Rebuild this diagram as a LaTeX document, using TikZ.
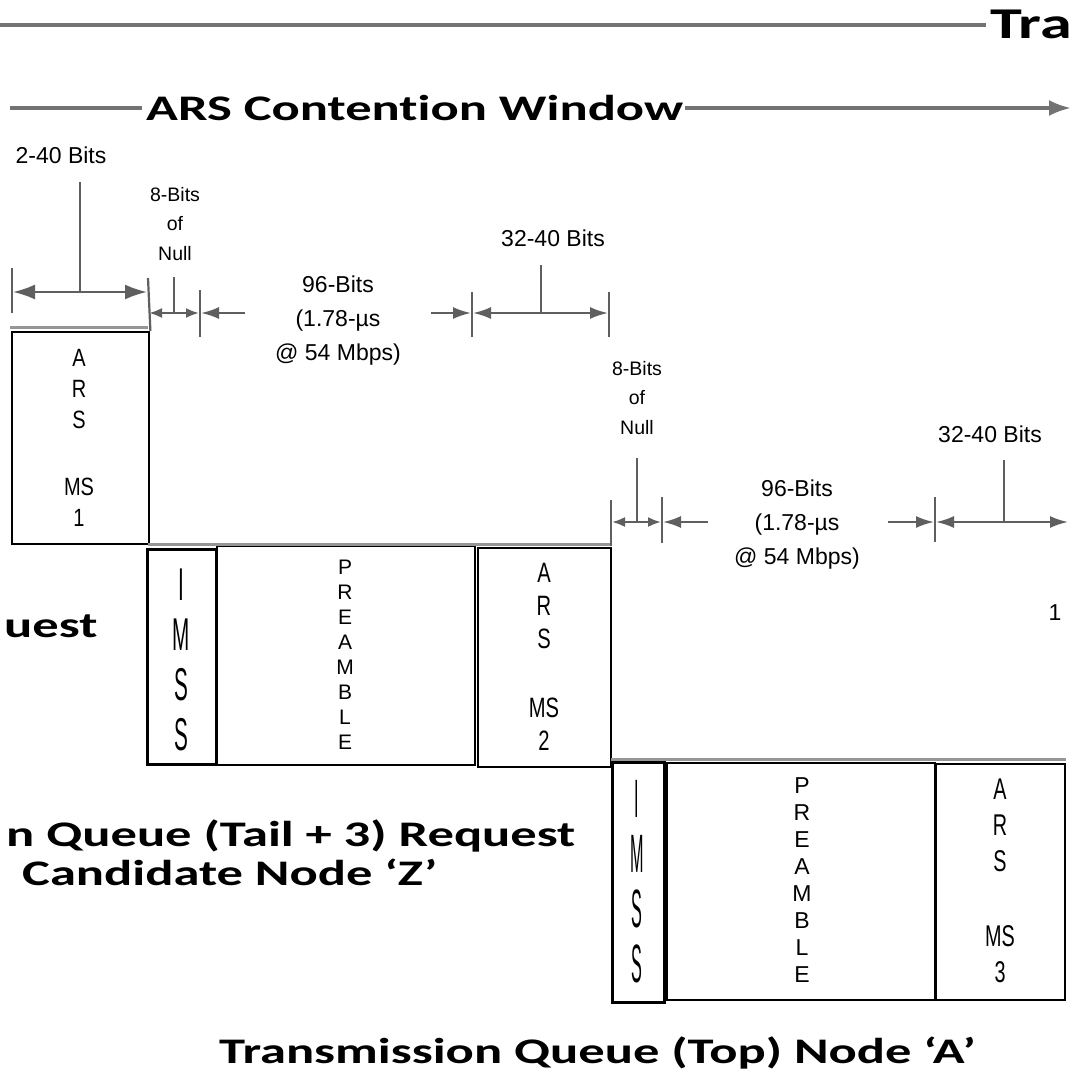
\documentclass[tikz,border=0pt]{standalone}
\usepackage{fontspec}
\setmainfont{Liberation Sans}
\newfontfamily\titlefont[FakeStretch=1.46,Ligatures=NoCommon]{Carlito}
\newfontfamily\imssA[FakeStretch=0.45]{Liberation Sans}
\newfontfamily\imssB[FakeStretch=0.3]{Liberation Sans}
\newfontfamily\arsA[FakeStretch=0.8]{Liberation Sans}
\newfontfamily\arsB[FakeStretch=0.72]{Liberation Sans}
\newfontfamily\arsC[FakeStretch=0.66]{Liberation Sans}
\usetikzlibrary{arrows.meta}
\definecolor{dimgray}{RGB}{95,95,95}
\definecolor{rulegray}{RGB}{115,115,115}
\definecolor{edgegray}{RGB}{150,150,150}
\begin{document}
\begin{tikzpicture}[x=1pt,y=-1pt,
  box/.style={draw=black,line width=2.4pt,inner sep=0pt,anchor=north west},
  stack/.style={align=center,inner sep=0pt},
  dimln/.style={draw=dimgray,line width=2.2pt},
  bigarr/.style={dimln,-{Latex[length=22pt,width=15pt]}},
  midarr/.style={dimln,-{Latex[length=18pt,width=12pt]}},
  smallarr/.style={dimln,-{Latex[length=13pt,width=10pt]}},
  lbl/.style={inner sep=0pt,font=\fontsize{23}{33}\selectfont,align=center},
  nulllbl/.style={inner sep=0pt,font=\fontsize{19.5}{29.5}\selectfont,align=center},
  ttl/.style={inner sep=0pt,font=\titlefont\bfseries\fontsize{36}{42}\selectfont},
  grayrule/.style={draw=rulegray,line width=4.5pt},
  edgerule/.style={draw=edgegray,line width=3pt}]
\useasboundingbox (0,0) rectangle (1071,1079);
\clip (0,0) rectangle (1071,1079);
\fill[white] (0,0) rectangle (1071,1079);

% ---- top rule
\coordinate (topL) at (0,25);
\node[ttl,font=\titlefont\bfseries\fontsize{44}{50}\selectfont,anchor=base west] (tra) at (990,38) {Tra};
\draw[grayrule] (topL) -- ([xshift=-4pt]topL -| tra.west);

% ---- ARS contention window
\node[ttl,anchor=base west] (arscw) at (146,120) {ARS Contention Window};
\coordinate (cwL) at (10,108);
\coordinate (cwR) at (1071,108);
\draw[grayrule,line width=3.5pt] (cwL) -- ([xshift=-4pt]cwL -| arscw.west);
\draw[grayrule,line width=3.5pt,-{Latex[length=22pt,width=16pt]}] ([xshift=2pt]cwR -| arscw.east) -- (cwR);

% ---- boxes
\node[box,minimum width=137pt,minimum height=212pt] (ms1) at (11,331) {};
\node[stack,font=\arsA\fontsize{25}{31}\selectfont] (ms1t) at (79,437.5) {A\\R\\S\\[36pt]MS\\1};

\node[box,line width=2.8pt,minimum width=69pt,minimum height=215pt] (imss1) at (146,548) {};
\node[stack,font=\imssA\fontsize{46}{50}\selectfont] (imss1t) at (181,660) {I\\M\\S\\S};

\node[box,minimum width=258pt,minimum height=219pt] (pre1) at (216,545) {};
\node[stack,font=\fontsize{21}{25}\selectfont] (pre1t) at (345,654.5) {P\\R\\E\\A\\M\\B\\L\\E};

\node[box,minimum width=133pt,minimum height=219pt] (ms2) at (477,547) {};
\node[stack,font=\arsB\fontsize{28}{33}\selectfont] (ms2t) at (544,656.5) {A\\R\\S\\[36pt]MS\\2};

\node[box,line width=2.8pt,minimum width=52pt,minimum height=240pt] (imss2) at (611,761) {};
\node[stack,font=\imssB\fontsize{54}{55}\selectfont] (imss2t) at (637,882) {I\\M\\S\\S};

\node[box,minimum width=268pt,minimum height=237pt] (pre2) at (666,762) {};
\node[stack,font=\fontsize{23}{27.1}\selectfont] (pre2t) at (802,880) {P\\R\\E\\A\\M\\B\\L\\E};

\node[box,minimum width=129pt,minimum height=236pt] (ms3) at (935,763) {};
\node[stack,font=\arsC\fontsize{30}{36}\selectfont] (ms3t) at (1000,881) {A\\R\\S\\[39pt]MS\\3};

% ---- light edge rules above the box rows
\draw[edgerule] (10,327) -- (148,327);
\draw[edgerule] (148,544) -- (611,544);
\draw[edgerule] (611,759) -- (1066,759);

% ---- dimension row 1
\node[lbl] (l240) at (61,155) {2-40 Bits};
\coordinate (s1top) at (80,182);
\coordinate (s1) at (80,292);
\draw[dimln] (12,268) -- (12,313);
\draw[dimln] (148,278) -- (ms1.north east);
\draw[dimln] (s1top) -- (s1);
\draw[bigarr] (s1) -- (13,292);
\draw[bigarr] (s1) -- (147,292);

\node[nulllbl] (n1) at (175,224) {8-Bits\\of\\Null};
\coordinate (s2top) at (174,277);
\coordinate (s2) at (174,313);
\draw[dimln] (s2top) -- (s2);
\draw[smallarr] (s2) -- (149,313);
\draw[smallarr] (s2) -- (199,313);
\draw[dimln] (200,290) -- (200,337);
\draw[midarr] (245,313) -- (201,313);

\node[lbl,font=\fontsize{23}{34}\selectfont] (b96a) at (338,321) {96-Bits\\(1.78-µs\\@ 54 Mbps)};
\draw[midarr] (431,313) -- (471,313);
\draw[dimln] (472,292) -- (472,337);

\node[lbl] (l3240a) at (553,238) {32-40 Bits};
\coordinate (s3top) at (541,265);
\coordinate (s3) at (541,313);
\draw[dimln] (s3top) -- (s3);
\draw[midarr] (s3) -- (473,313);
\draw[midarr] (s3) -- (608,313);
\draw[dimln] (609,292) -- (609,337);

% ---- dimension row 2
\draw[dimln] (611,500) -- (611,546);
\node[nulllbl] (n2) at (637,398) {8-Bits\\of\\Null};
\coordinate (s4top) at (637,458);
\coordinate (s4) at (637,522);
\draw[dimln] (s4top) -- (s4);
\draw[smallarr] (s4) -- (612,522);
\draw[smallarr] (s4) -- (661,522);
\draw[dimln] (662,497) -- (662,543);
\draw[midarr] (708,522) -- (663,522);

\node[lbl,font=\fontsize{23}{34}\selectfont] (b96b) at (797,525) {96-Bits\\(1.78-µs\\@ 54 Mbps)};
\draw[midarr] (888,522) -- (934,522);
\draw[dimln] (935,497) -- (935,542);

\node[lbl] (l3240b) at (990,434) {32-40 Bits};
\coordinate (s5top) at (1004,460);
\coordinate (s5) at (1004,522);
\draw[dimln] (s5top) -- (s5);
\draw[midarr] (s5) -- (936,522);
\draw[midarr] (s5) -- (1068,522);

\node[lbl] (one) at (1055,613) {1};

% ---- queue labels
\node[ttl,anchor=base west] (uest) at (4,637) {uest};
\node[ttl,anchor=base west] (q3) at (6,846) {n Queue (Tail + 3) Request};
\node[ttl,anchor=base west] (cand) at (22,885) {Candidate Node ‘Z’};
\node[ttl,anchor=base west] (tq) at (219,1063) {Transmission Queue (Top) Node ‘A’};
\end{tikzpicture}
\end{document}
